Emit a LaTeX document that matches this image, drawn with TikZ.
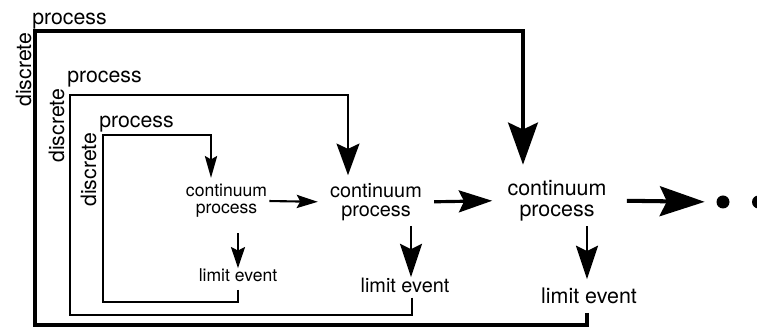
\documentclass[tikz,border=0pt]{standalone}
\usepackage{fontspec}
\setmainfont{TeX Gyre Heros}
\usetikzlibrary{arrows.meta}

\begin{document}
\begin{tikzpicture}
[draw=black,
cont1/.style={align=center, inner sep=0pt, font=\fontsize{10}{9.8}\selectfont},
cont2/.style={align=center, inner sep=0pt, font=\fontsize{11.3}{10.5}\selectfont},
cont3/.style={align=center, inner sep=0pt, font=\fontsize{12.2}{12}\selectfont},
lbl/.style={inner sep=0pt, anchor=base west, font=\fontsize{12.1}{14}\selectfont},
dotnode/.style={circle, fill, inner sep=0pt, minimum size=0.26cm},
loop1/.style={line width=1pt, -{Stealth[length=12.5pt, width=7pt, inset=2pt]}},
loop2/.style={line width=1.5pt, -{Stealth[length=18pt, width=13pt, inset=3pt]}},
loop3/.style={line width=1.9pt, -{Stealth[length=24pt, width=17pt, inset=4pt]}},
arr1/.style={line width=1pt, -{Stealth[length=12pt, width=8pt, inset=2pt]}},
arr2/.style={line width=1.3pt, -{Stealth[length=19pt, width=12.5pt, inset=3pt]}},
arr3/.style={line width=1.5pt, -{Stealth[length=19pt, width=12.5pt, inset=3pt]}}]

\useasboundingbox (0,0) rectangle (15.14,6.58);

\node[cont1] (cp1) at (4.53,2.56) {continuum\\process};
\node[cont2] (cp2) at (7.52,2.54) {continuum\\process};
\node[cont3] (cp3) at (11.14,2.57) {continuum\\process};

\node[cont1] (le1) at (4.76,1.08) {limit event};
\node[cont2] (le2) at (8.10,0.88) {limit event};
\node[cont3] (le3) at (11.78,0.67) {limit event};

\node[dotnode] (dot1) at (14.46,2.54) {};
\node[dotnode] (dot2) at (15.17,2.54) {};

\node[lbl] (proc1) at (1.98,4.02) {process};
\node[lbl] (proc2) at (1.34,4.92) {process};
\node[lbl] (proc3) at (0.64,6.08) {process};
\node[lbl, rotate=90] (disc1) at (1.92,2.44) {discrete};
\node[lbl, rotate=90] (disc2) at (1.28,3.32) {discrete};
\node[lbl, rotate=90] (disc3) at (0.62,4.44) {discrete};

% forward arrows
\draw[line width=1.2pt, -{Stealth[length=12pt, width=7.5pt, inset=2pt]}, shorten <=0.04cm, shorten >=0.24cm] (cp1.east) -- (cp2.west);
\draw[line width=1.8pt, -{Stealth[length=19pt, width=12.5pt, inset=3pt]}, shorten <=0.24cm, shorten >=0.30cm] (cp2.east) -- (cp3.west);
\draw[line width=2.3pt, -{Stealth[length=25.5pt, width=17pt, inset=4pt]}, shorten <=0.40cm, shorten >=0.23cm] (cp3.east) -- (dot1.west);

% down to limit events
\coordinate (a1) at (le1.north);
\coordinate (a2) at ([xshift=0.12cm]le2.north);
\coordinate (a3) at ([xshift=-0.04cm]le3.north);
\draw[arr1, shorten <=0.30cm] (a1 |- cp1.south) -- (a1);
\draw[arr2, shorten <=0.10cm] (a2 |- cp2.south) -- (a2);
\draw[arr3, shorten <=0.10cm, shorten >=0.16cm] (a3 |- cp3.south) -- (a3);

% discrete process loops
\draw[loop1] ([yshift=-0.16cm]le1.south) |- (2.06,0.54) |- (4.22,3.88) -- ([xshift=-0.31cm,yshift=0.12cm]cp1.north);
\draw[loop2] ([xshift=0.14cm,yshift=-0.10cm]le2.south) |- (1.40,0.28) |- (6.96,4.68) -- ([xshift=-0.56cm,yshift=0.16cm]cp2.north);
\draw[loop3] ([xshift=-0.04cm,yshift=-0.18cm]le3.south) |- (0.70,0.08) |- (10.46,5.96) -- ([xshift=-0.68cm,yshift=0.30cm]cp3.north);
\end{tikzpicture}
\end{document}
